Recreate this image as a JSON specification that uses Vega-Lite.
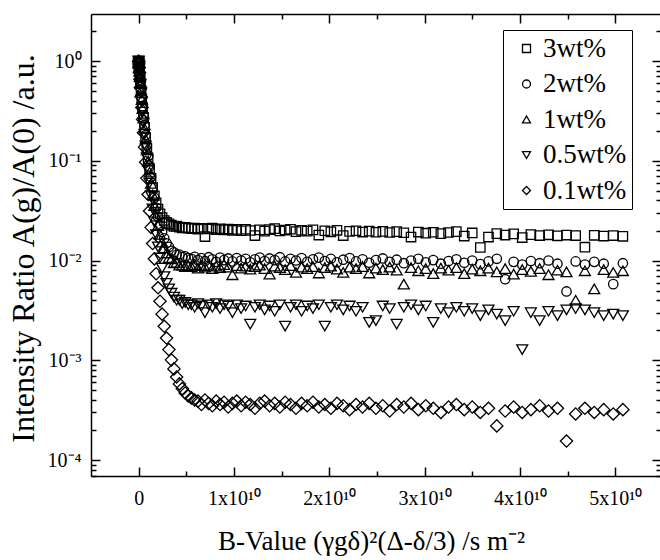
{
"$schema":"https://vega.github.io/schema/vega-lite/v6.json",
"autosize":"none",
"padding":{"left":91,"top":14,"right":0,"bottom":84},
"width":570,"height":462,
"background":"white",
"config":{"view":{"stroke":null},"font":"Liberation Serif"},
"data":{"values":[
{"s":"3wt%","b":0,"r":1},{"s":"3wt%","b":0.0005,"r":0.986},{"s":"3wt%","b":0.002,"r":0.945},{"s":"3wt%","b":0.0046,"r":0.877},{"s":"3wt%","b":0.0081,"r":0.795},{"s":"3wt%","b":0.0127,"r":0.701},{"s":"3wt%","b":0.0183,"r":0.603},{"s":"3wt%","b":0.0249,"r":0.508},{"s":"3wt%","b":0.0325,"r":0.42},{"s":"3wt%","b":0.0411,"r":0.341},{"s":"3wt%","b":0.0508,"r":0.273},{"s":"3wt%","b":0.0615,"r":0.216},{"s":"3wt%","b":0.0732,"r":0.17},{"s":"3wt%","b":0.0859,"r":0.134},{"s":"3wt%","b":0.0996,"r":0.105},{"s":"3wt%","b":0.1143,"r":0.0833},{"s":"3wt%","b":0.13,"r":0.0665},{"s":"3wt%","b":0.1468,"r":0.054},{"s":"3wt%","b":0.1646,"r":0.0446},{"s":"3wt%","b":0.1834,"r":0.0379},{"s":"3wt%","b":0.2032,"r":0.0328},{"s":"3wt%","b":0.224,"r":0.0294},{"s":"3wt%","b":0.2459,"r":0.027},{"s":"3wt%","b":0.2687,"r":0.0252},{"s":"3wt%","b":0.2926,"r":0.0241},{"s":"3wt%","b":0.3175,"r":0.0233},{"s":"3wt%","b":0.3434,"r":0.0226},{"s":"3wt%","b":0.3703,"r":0.022},{"s":"3wt%","b":0.3983,"r":0.0221},{"s":"3wt%","b":0.4272,"r":0.0216},{"s":"3wt%","b":0.4572,"r":0.0212},{"s":"3wt%","b":0.4882,"r":0.0215},{"s":"3wt%","b":0.5202,"r":0.0211},
{"s":"3wt%","b":0.5532,"r":0.0209},{"s":"3wt%","b":0.5873,"r":0.0212},{"s":"3wt%","b":0.6223,"r":0.0206},{"s":"3wt%","b":0.6584,"r":0.021},{"s":"3wt%","b":0.6955,"r":0.0174},{"s":"3wt%","b":0.7336,"r":0.0207},{"s":"3wt%","b":0.7727,"r":0.0211},{"s":"3wt%","b":0.8128,"r":0.0204},{"s":"3wt%","b":0.8539,"r":0.0208},{"s":"3wt%","b":0.8961,"r":0.0203},{"s":"3wt%","b":0.9393,"r":0.0207},{"s":"3wt%","b":0.9835,"r":0.0201},{"s":"3wt%","b":1.0287,"r":0.0205},{"s":"3wt%","b":1.0749,"r":0.0199},{"s":"3wt%","b":1.1222,"r":0.0206},{"s":"3wt%","b":1.1704,"r":0.02},{"s":"3wt%","b":1.2197,"r":0.0178},{"s":"3wt%","b":1.27,"r":0.0203},{"s":"3wt%","b":1.3213,"r":0.0197},{"s":"3wt%","b":1.3736,"r":0.0204},{"s":"3wt%","b":1.427,"r":0.0209},{"s":"3wt%","b":1.4813,"r":0.0198},{"s":"3wt%","b":1.5367,"r":0.0202},{"s":"3wt%","b":1.5931,"r":0.0206},{"s":"3wt%","b":1.6505,"r":0.0195},{"s":"3wt%","b":1.7089,"r":0.0201},{"s":"3wt%","b":1.7683,"r":0.0197},{"s":"3wt%","b":1.8288,"r":0.0203},{"s":"3wt%","b":1.8903,"r":0.018},{"s":"3wt%","b":1.9528,"r":0.0199},{"s":"3wt%","b":2.0163,"r":0.0194},{"s":"3wt%","b":2.0808,"r":0.0201},{"s":"3wt%","b":2.1463,"r":0.0178},{"s":"3wt%","b":2.2129,"r":0.0196},{"s":"3wt%","b":2.2804,"r":0.0199},{"s":"3wt%","b":2.349,"r":0.0193},{"s":"3wt%","b":2.4186,"r":0.0197},{"s":"3wt%","b":2.4892,"r":0.0192},{"s":"3wt%","b":2.5608,"r":0.0196},{"s":"3wt%","b":2.6335,"r":0.0191},{"s":"3wt%","b":2.7071,"r":0.0195},{"s":"3wt%","b":2.7818,"r":0.019},{"s":"3wt%","b":2.8575,"r":0.0172},{"s":"3wt%","b":2.9342,"r":0.0193},{"s":"3wt%","b":3.0119,"r":0.0188},{"s":"3wt%","b":3.0907,"r":0.0192},{"s":"3wt%","b":3.1704,"r":0.0186},{"s":"3wt%","b":3.2512,"r":0.0191},{"s":"3wt%","b":3.333,"r":0.0195},{"s":"3wt%","b":3.4158,"r":0.0176},{"s":"3wt%","b":3.4996,"r":0.0189},{"s":"3wt%","b":3.5845,"r":0.0135},{"s":"3wt%","b":3.6703,"r":0.0172},{"s":"3wt%","b":3.7572,"r":0.0186},{"s":"3wt%","b":3.8451,"r":0.018},{"s":"3wt%","b":3.934,"r":0.0185},{"s":"3wt%","b":4.0239,"r":0.017},{"s":"3wt%","b":4.1148,"r":0.0182},{"s":"3wt%","b":4.2068,"r":0.0178},{"s":"3wt%","b":4.2997,"r":0.0181},{"s":"3wt%","b":4.3937,"r":0.0177},{"s":"3wt%","b":4.4887,"r":0.018},{"s":"3wt%","b":4.5847,"r":0.0178},{"s":"3wt%","b":4.6817,"r":0.0136},{"s":"3wt%","b":4.7797,"r":0.0179},{"s":"3wt%","b":4.8788,"r":0.0176},{"s":"3wt%","b":4.9789,"r":0.0178},{"s":"3wt%","b":5.08,"r":0.0175},
{"s":"2wt%","b":0,"r":1},{"s":"2wt%","b":0.0005,"r":0.986},{"s":"2wt%","b":0.002,"r":0.945},{"s":"2wt%","b":0.0046,"r":0.88},{"s":"2wt%","b":0.0081,"r":0.799},{"s":"2wt%","b":0.0127,"r":0.707},{"s":"2wt%","b":0.0183,"r":0.611},{"s":"2wt%","b":0.0249,"r":0.518},{"s":"2wt%","b":0.0325,"r":0.431},{"s":"2wt%","b":0.0411,"r":0.353},{"s":"2wt%","b":0.0508,"r":0.285},{"s":"2wt%","b":0.0615,"r":0.228},{"s":"2wt%","b":0.0732,"r":0.181},{"s":"2wt%","b":0.0859,"r":0.142},{"s":"2wt%","b":0.0996,"r":0.112},{"s":"2wt%","b":0.1143,"r":0.0878},{"s":"2wt%","b":0.13,"r":0.0687},{"s":"2wt%","b":0.1468,"r":0.0539},{"s":"2wt%","b":0.1646,"r":0.0426},{"s":"2wt%","b":0.1834,"r":0.0339},{"s":"2wt%","b":0.2032,"r":0.0274},{"s":"2wt%","b":0.224,"r":0.0227},{"s":"2wt%","b":0.2459,"r":0.0193},{"s":"2wt%","b":0.2687,"r":0.0167},{"s":"2wt%","b":0.2926,"r":0.0149},{"s":"2wt%","b":0.3175,"r":0.0137},{"s":"2wt%","b":0.3434,"r":0.0125},{"s":"2wt%","b":0.3703,"r":0.0121},{"s":"2wt%","b":0.3983,"r":0.0114},{"s":"2wt%","b":0.4272,"r":0.0115},{"s":"2wt%","b":0.4572,"r":0.0109},{"s":"2wt%","b":0.4882,"r":0.011},{"s":"2wt%","b":0.5202,"r":0.0106},
{"s":"2wt%","b":0.5532,"r":0.0104},{"s":"2wt%","b":0.5873,"r":0.0109},{"s":"2wt%","b":0.6223,"r":0.0101},{"s":"2wt%","b":0.6584,"r":0.0106},{"s":"2wt%","b":0.6955,"r":0.0099},{"s":"2wt%","b":0.7336,"r":0.0108},{"s":"2wt%","b":0.7727,"r":0.0103},{"s":"2wt%","b":0.8128,"r":0.0097},{"s":"2wt%","b":0.8539,"r":0.0107},{"s":"2wt%","b":0.8961,"r":0.0101},{"s":"2wt%","b":0.9393,"r":0.0105},{"s":"2wt%","b":0.9835,"r":0.0098},{"s":"2wt%","b":1.0287,"r":0.0106},{"s":"2wt%","b":1.0749,"r":0.01},{"s":"2wt%","b":1.1222,"r":0.0104},{"s":"2wt%","b":1.1704,"r":0.0096},{"s":"2wt%","b":1.2197,"r":0.0103},{"s":"2wt%","b":1.27,"r":0.0107},{"s":"2wt%","b":1.3213,"r":0.0099},{"s":"2wt%","b":1.3736,"r":0.0105},{"s":"2wt%","b":1.427,"r":0.0101},{"s":"2wt%","b":1.4813,"r":0.0108},{"s":"2wt%","b":1.5367,"r":0.0098},{"s":"2wt%","b":1.5931,"r":0.0104},{"s":"2wt%","b":1.6505,"r":0.01},{"s":"2wt%","b":1.7089,"r":0.0106},{"s":"2wt%","b":1.7683,"r":0.0097},{"s":"2wt%","b":1.8288,"r":0.0103},{"s":"2wt%","b":1.8903,"r":0.0107},{"s":"2wt%","b":1.9528,"r":0.0099},{"s":"2wt%","b":2.0163,"r":0.0104},{"s":"2wt%","b":2.0808,"r":0.0096},{"s":"2wt%","b":2.1463,"r":0.0102},{"s":"2wt%","b":2.2129,"r":0.0106},{"s":"2wt%","b":2.2804,"r":0.0098},{"s":"2wt%","b":2.349,"r":0.0103},{"s":"2wt%","b":2.4186,"r":0.0095},{"s":"2wt%","b":2.4892,"r":0.0101},{"s":"2wt%","b":2.5608,"r":0.0105},{"s":"2wt%","b":2.6335,"r":0.0097},{"s":"2wt%","b":2.7071,"r":0.0102},{"s":"2wt%","b":2.7818,"r":0.0094},{"s":"2wt%","b":2.8575,"r":0.01},{"s":"2wt%","b":2.9342,"r":0.0104},{"s":"2wt%","b":3.0119,"r":0.0096},{"s":"2wt%","b":3.0907,"r":0.0101},{"s":"2wt%","b":3.1704,"r":0.0093},{"s":"2wt%","b":3.2512,"r":0.0099},{"s":"2wt%","b":3.333,"r":0.0103},{"s":"2wt%","b":3.4158,"r":0.0095},{"s":"2wt%","b":3.4996,"r":0.01},{"s":"2wt%","b":3.5845,"r":0.0092},{"s":"2wt%","b":3.6703,"r":0.0098},{"s":"2wt%","b":3.7572,"r":0.0104},{"s":"2wt%","b":3.8451,"r":0.0065},{"s":"2wt%","b":3.934,"r":0.0097},{"s":"2wt%","b":4.0239,"r":0.0091},{"s":"2wt%","b":4.1148,"r":0.0099},{"s":"2wt%","b":4.2068,"r":0.0094},{"s":"2wt%","b":4.2997,"r":0.01},{"s":"2wt%","b":4.3937,"r":0.0093},{"s":"2wt%","b":4.4887,"r":0.0049},{"s":"2wt%","b":4.5847,"r":0.0098},{"s":"2wt%","b":4.6817,"r":0.0091},{"s":"2wt%","b":4.7797,"r":0.0097},{"s":"2wt%","b":4.8788,"r":0.0093},{"s":"2wt%","b":4.9789,"r":0.0058},{"s":"2wt%","b":5.08,"r":0.0094},
{"s":"1wt%","b":0,"r":1},{"s":"1wt%","b":0.0005,"r":0.985},{"s":"1wt%","b":0.002,"r":0.942},{"s":"1wt%","b":0.0046,"r":0.873},{"s":"1wt%","b":0.0081,"r":0.79},{"s":"1wt%","b":0.0127,"r":0.694},{"s":"1wt%","b":0.0183,"r":0.595},{"s":"1wt%","b":0.0249,"r":0.4995},{"s":"1wt%","b":0.0325,"r":0.4115},{"s":"1wt%","b":0.0411,"r":0.334},{"s":"1wt%","b":0.0508,"r":0.267},{"s":"1wt%","b":0.0615,"r":0.211},{"s":"1wt%","b":0.0732,"r":0.165},{"s":"1wt%","b":0.0859,"r":0.1285},{"s":"1wt%","b":0.0996,"r":0.0994},{"s":"1wt%","b":0.1143,"r":0.0768},{"s":"1wt%","b":0.13,"r":0.0594},{"s":"1wt%","b":0.1468,"r":0.0457},{"s":"1wt%","b":0.1646,"r":0.0356},{"s":"1wt%","b":0.1834,"r":0.0279},{"s":"1wt%","b":0.2032,"r":0.0224},{"s":"1wt%","b":0.224,"r":0.0183},{"s":"1wt%","b":0.2459,"r":0.0153},{"s":"1wt%","b":0.2687,"r":0.0134},{"s":"1wt%","b":0.2926,"r":0.0119},{"s":"1wt%","b":0.3175,"r":0.0107},{"s":"1wt%","b":0.3434,"r":0.0104},{"s":"1wt%","b":0.3703,"r":0.0095},{"s":"1wt%","b":0.3983,"r":0.0096},{"s":"1wt%","b":0.4272,"r":0.009},{"s":"1wt%","b":0.4572,"r":0.009},{"s":"1wt%","b":0.4882,"r":0.0087},{"s":"1wt%","b":0.5202,"r":0.0089},
{"s":"1wt%","b":0.5532,"r":0.0087},{"s":"1wt%","b":0.5873,"r":0.0091},{"s":"1wt%","b":0.6223,"r":0.0084},{"s":"1wt%","b":0.6584,"r":0.0089},{"s":"1wt%","b":0.6955,"r":0.0086},{"s":"1wt%","b":0.7336,"r":0.009},{"s":"1wt%","b":0.7727,"r":0.0083},{"s":"1wt%","b":0.8128,"r":0.0088},{"s":"1wt%","b":0.8539,"r":0.0085},{"s":"1wt%","b":0.8961,"r":0.0091},{"s":"1wt%","b":0.9393,"r":0.0086},{"s":"1wt%","b":0.9835,"r":0.0072},{"s":"1wt%","b":1.0287,"r":0.0089},{"s":"1wt%","b":1.0749,"r":0.0084},{"s":"1wt%","b":1.1222,"r":0.0088},{"s":"1wt%","b":1.1704,"r":0.0082},{"s":"1wt%","b":1.2197,"r":0.0087},{"s":"1wt%","b":1.27,"r":0.009},{"s":"1wt%","b":1.3213,"r":0.0083},{"s":"1wt%","b":1.3736,"r":0.0073},{"s":"1wt%","b":1.427,"r":0.0088},{"s":"1wt%","b":1.4813,"r":0.0085},{"s":"1wt%","b":1.5367,"r":0.0081},{"s":"1wt%","b":1.5931,"r":0.0089},{"s":"1wt%","b":1.6505,"r":0.0076},{"s":"1wt%","b":1.7089,"r":0.0086},{"s":"1wt%","b":1.7683,"r":0.0083},{"s":"1wt%","b":1.8288,"r":0.0087},{"s":"1wt%","b":1.8903,"r":0.0075},{"s":"1wt%","b":1.9528,"r":0.0085},{"s":"1wt%","b":2.0163,"r":0.0088},{"s":"1wt%","b":2.0808,"r":0.0082},{"s":"1wt%","b":2.1463,"r":0.0076},{"s":"1wt%","b":2.2129,"r":0.0086},{"s":"1wt%","b":2.2804,"r":0.0083},{"s":"1wt%","b":2.349,"r":0.0087},{"s":"1wt%","b":2.4186,"r":0.0075},{"s":"1wt%","b":2.4892,"r":0.0084},{"s":"1wt%","b":2.5608,"r":0.0081},{"s":"1wt%","b":2.6335,"r":0.0086},{"s":"1wt%","b":2.7071,"r":0.008},{"s":"1wt%","b":2.7818,"r":0.0058},{"s":"1wt%","b":2.8575,"r":0.0085},{"s":"1wt%","b":2.9342,"r":0.0079},{"s":"1wt%","b":3.0119,"r":0.0083},{"s":"1wt%","b":3.0907,"r":0.0074},{"s":"1wt%","b":3.1704,"r":0.0084},{"s":"1wt%","b":3.2512,"r":0.008},{"s":"1wt%","b":3.333,"r":0.0085},{"s":"1wt%","b":3.4158,"r":0.0074},{"s":"1wt%","b":3.4996,"r":0.0082},{"s":"1wt%","b":3.5845,"r":0.0079},{"s":"1wt%","b":3.6703,"r":0.0084},{"s":"1wt%","b":3.7572,"r":0.0077},{"s":"1wt%","b":3.8451,"r":0.0083},{"s":"1wt%","b":3.934,"r":0.0073},{"s":"1wt%","b":4.0239,"r":0.0081},{"s":"1wt%","b":4.1148,"r":0.0078},{"s":"1wt%","b":4.2068,"r":0.0083},{"s":"1wt%","b":4.2997,"r":0.0072},{"s":"1wt%","b":4.3937,"r":0.008},{"s":"1wt%","b":4.4887,"r":0.0077},{"s":"1wt%","b":4.5847,"r":0.004},{"s":"1wt%","b":4.6817,"r":0.0079},{"s":"1wt%","b":4.7797,"r":0.0052},{"s":"1wt%","b":4.8788,"r":0.0081},{"s":"1wt%","b":4.9789,"r":0.0076},{"s":"1wt%","b":5.08,"r":0.0079},
{"s":"0.5wt%","b":0,"r":1},{"s":"0.5wt%","b":0.0005,"r":0.984},{"s":"0.5wt%","b":0.002,"r":0.939},{"s":"0.5wt%","b":0.0046,"r":0.866},{"s":"0.5wt%","b":0.0081,"r":0.778},{"s":"0.5wt%","b":0.0127,"r":0.678},{"s":"0.5wt%","b":0.0183,"r":0.575},{"s":"0.5wt%","b":0.0249,"r":0.476},{"s":"0.5wt%","b":0.0325,"r":0.386},{"s":"0.5wt%","b":0.0411,"r":0.307},{"s":"0.5wt%","b":0.0508,"r":0.24},{"s":"0.5wt%","b":0.0615,"r":0.185},{"s":"0.5wt%","b":0.0732,"r":0.141},{"s":"0.5wt%","b":0.0859,"r":0.1066},{"s":"0.5wt%","b":0.0996,"r":0.0801},{"s":"0.5wt%","b":0.1143,"r":0.0598},{"s":"0.5wt%","b":0.13,"r":0.0445},{"s":"0.5wt%","b":0.1468,"r":0.033},{"s":"0.5wt%","b":0.1646,"r":0.0244},{"s":"0.5wt%","b":0.1834,"r":0.0182},{"s":"0.5wt%","b":0.2032,"r":0.0137},{"s":"0.5wt%","b":0.224,"r":0.0106},{"s":"0.5wt%","b":0.2459,"r":0.0084},{"s":"0.5wt%","b":0.2687,"r":0.0069},{"s":"0.5wt%","b":0.2926,"r":0.0059},{"s":"0.5wt%","b":0.3175,"r":0.0052},{"s":"0.5wt%","b":0.3434,"r":0.0047},{"s":"0.5wt%","b":0.3703,"r":0.0043},{"s":"0.5wt%","b":0.3983,"r":0.004},{"s":"0.5wt%","b":0.4272,"r":0.004},{"s":"0.5wt%","b":0.4572,"r":0.0037},{"s":"0.5wt%","b":0.4882,"r":0.0038},{"s":"0.5wt%","b":0.5202,"r":0.0036},
{"s":"0.5wt%","b":0.5532,"r":0.0036},{"s":"0.5wt%","b":0.5873,"r":0.0034},{"s":"0.5wt%","b":0.6223,"r":0.0037},{"s":"0.5wt%","b":0.6584,"r":0.0035},{"s":"0.5wt%","b":0.6955,"r":0.003},{"s":"0.5wt%","b":0.7336,"r":0.0036},{"s":"0.5wt%","b":0.7727,"r":0.0034},{"s":"0.5wt%","b":0.8128,"r":0.0037},{"s":"0.5wt%","b":0.8539,"r":0.0033},{"s":"0.5wt%","b":0.8961,"r":0.0036},{"s":"0.5wt%","b":0.9393,"r":0.0035},{"s":"0.5wt%","b":0.9835,"r":0.003},{"s":"0.5wt%","b":1.0287,"r":0.0036},{"s":"0.5wt%","b":1.0749,"r":0.0033},{"s":"0.5wt%","b":1.1222,"r":0.0035},{"s":"0.5wt%","b":1.1704,"r":0.0023},{"s":"0.5wt%","b":1.2197,"r":0.0034},{"s":"0.5wt%","b":1.27,"r":0.0036},{"s":"0.5wt%","b":1.3213,"r":0.0032},{"s":"0.5wt%","b":1.3736,"r":0.0035},{"s":"0.5wt%","b":1.427,"r":0.0031},{"s":"0.5wt%","b":1.4813,"r":0.0036},{"s":"0.5wt%","b":1.5367,"r":0.0022},{"s":"0.5wt%","b":1.5931,"r":0.0034},{"s":"0.5wt%","b":1.6505,"r":0.0036},{"s":"0.5wt%","b":1.7089,"r":0.0031},{"s":"0.5wt%","b":1.7683,"r":0.0035},{"s":"0.5wt%","b":1.8288,"r":0.0033},{"s":"0.5wt%","b":1.8903,"r":0.0036},{"s":"0.5wt%","b":1.9528,"r":0.0022},{"s":"0.5wt%","b":2.0163,"r":0.0034},{"s":"0.5wt%","b":2.0808,"r":0.0036},{"s":"0.5wt%","b":2.1463,"r":0.0032},{"s":"0.5wt%","b":2.2129,"r":0.0035},{"s":"0.5wt%","b":2.2804,"r":0.0031},{"s":"0.5wt%","b":2.349,"r":0.0034},{"s":"0.5wt%","b":2.4186,"r":0.0024},{"s":"0.5wt%","b":2.4892,"r":0.0025},{"s":"0.5wt%","b":2.5608,"r":0.0035},{"s":"0.5wt%","b":2.6335,"r":0.0033},{"s":"0.5wt%","b":2.7071,"r":0.0023},{"s":"0.5wt%","b":2.7818,"r":0.0034},{"s":"0.5wt%","b":2.8575,"r":0.0036},{"s":"0.5wt%","b":2.9342,"r":0.0032},{"s":"0.5wt%","b":3.0119,"r":0.0035},{"s":"0.5wt%","b":3.0907,"r":0.0024},{"s":"0.5wt%","b":3.1704,"r":0.0033},{"s":"0.5wt%","b":3.2512,"r":0.003},{"s":"0.5wt%","b":3.333,"r":0.0034},{"s":"0.5wt%","b":3.4158,"r":0.0031},{"s":"0.5wt%","b":3.4996,"r":0.0033},{"s":"0.5wt%","b":3.5845,"r":0.0028},{"s":"0.5wt%","b":3.6703,"r":0.0032},{"s":"0.5wt%","b":3.7572,"r":0.0029},{"s":"0.5wt%","b":3.8451,"r":0.0025},{"s":"0.5wt%","b":3.934,"r":0.0031},{"s":"0.5wt%","b":4.0239,"r":0.00128},{"s":"0.5wt%","b":4.1148,"r":0.003},{"s":"0.5wt%","b":4.2068,"r":0.0025},{"s":"0.5wt%","b":4.2997,"r":0.0031},{"s":"0.5wt%","b":4.3937,"r":0.0028},{"s":"0.5wt%","b":4.4887,"r":0.0032},{"s":"0.5wt%","b":4.5847,"r":0.0033},{"s":"0.5wt%","b":4.6817,"r":0.0032},{"s":"0.5wt%","b":4.7797,"r":0.003},{"s":"0.5wt%","b":4.8788,"r":0.0028},{"s":"0.5wt%","b":4.9789,"r":0.0029},{"s":"0.5wt%","b":5.08,"r":0.0028},
{"s":"0.1wt%","b":0,"r":1},{"s":"0.1wt%","b":0.0005,"r":0.984},{"s":"0.1wt%","b":0.002,"r":0.935},{"s":"0.1wt%","b":0.0046,"r":0.857},{"s":"0.1wt%","b":0.0081,"r":0.763},{"s":"0.1wt%","b":0.0127,"r":0.655},{"s":"0.1wt%","b":0.0183,"r":0.544},{"s":"0.1wt%","b":0.0249,"r":0.438},{"s":"0.1wt%","b":0.0325,"r":0.342},{"s":"0.1wt%","b":0.0411,"r":0.26},{"s":"0.1wt%","b":0.0508,"r":0.191},{"s":"0.1wt%","b":0.0615,"r":0.137},{"s":"0.1wt%","b":0.0732,"r":0.0967},{"s":"0.1wt%","b":0.0859,"r":0.067},{"s":"0.1wt%","b":0.0996,"r":0.0459},{"s":"0.1wt%","b":0.1143,"r":0.0314},{"s":"0.1wt%","b":0.13,"r":0.0215},{"s":"0.1wt%","b":0.1468,"r":0.0148},{"s":"0.1wt%","b":0.1646,"r":0.0104},{"s":"0.1wt%","b":0.1834,"r":0.00737},{"s":"0.1wt%","b":0.2032,"r":0.00533},{"s":"0.1wt%","b":0.224,"r":0.00391},{"s":"0.1wt%","b":0.2459,"r":0.0029},{"s":"0.1wt%","b":0.2687,"r":0.00219},{"s":"0.1wt%","b":0.2926,"r":0.00167},{"s":"0.1wt%","b":0.3175,"r":0.00128},{"s":"0.1wt%","b":0.3434,"r":0.00101},{"s":"0.1wt%","b":0.3703,"r":0.00082},{"s":"0.1wt%","b":0.3983,"r":0.00068},{"s":"0.1wt%","b":0.4272,"r":0.00058},{"s":"0.1wt%","b":0.4572,"r":0.00052},{"s":"0.1wt%","b":0.4882,"r":0.00047},{"s":"0.1wt%","b":0.5202,"r":0.00044},{"s":"0.1wt%","b":0.5532,"r":0.00042},{"s":"0.1wt%","b":0.5873,"r":0.0004},
{"s":"0.1wt%","b":0.6223,"r":0.00039},{"s":"0.1wt%","b":0.6584,"r":0.00036},{"s":"0.1wt%","b":0.6955,"r":0.0004},{"s":"0.1wt%","b":0.7336,"r":0.00037},{"s":"0.1wt%","b":0.7727,"r":0.00035},{"s":"0.1wt%","b":0.8128,"r":0.00039},{"s":"0.1wt%","b":0.8539,"r":0.00036},{"s":"0.1wt%","b":0.8961,"r":0.00038},{"s":"0.1wt%","b":0.9393,"r":0.00034},{"s":"0.1wt%","b":0.9835,"r":0.00037},{"s":"0.1wt%","b":1.0287,"r":0.00039},{"s":"0.1wt%","b":1.0749,"r":0.00035},{"s":"0.1wt%","b":1.1222,"r":0.00038},{"s":"0.1wt%","b":1.1704,"r":0.00036},{"s":"0.1wt%","b":1.2197,"r":0.00033},{"s":"0.1wt%","b":1.27,"r":0.00037},{"s":"0.1wt%","b":1.3213,"r":0.00039},{"s":"0.1wt%","b":1.3736,"r":0.00035},{"s":"0.1wt%","b":1.427,"r":0.00037},{"s":"0.1wt%","b":1.4813,"r":0.00034},{"s":"0.1wt%","b":1.5367,"r":0.00038},{"s":"0.1wt%","b":1.5931,"r":0.00036},{"s":"0.1wt%","b":1.6505,"r":0.00033},{"s":"0.1wt%","b":1.7089,"r":0.00037},{"s":"0.1wt%","b":1.7683,"r":0.00035},{"s":"0.1wt%","b":1.8288,"r":0.00038},{"s":"0.1wt%","b":1.8903,"r":0.00034},{"s":"0.1wt%","b":1.9528,"r":0.00036},{"s":"0.1wt%","b":2.0163,"r":0.00033},{"s":"0.1wt%","b":2.0808,"r":0.00037},{"s":"0.1wt%","b":2.1463,"r":0.00035},{"s":"0.1wt%","b":2.2129,"r":0.00032},{"s":"0.1wt%","b":2.2804,"r":0.00036},{"s":"0.1wt%","b":2.349,"r":0.00034},{"s":"0.1wt%","b":2.4186,"r":0.00037},{"s":"0.1wt%","b":2.4892,"r":0.00033},{"s":"0.1wt%","b":2.5608,"r":0.00035},{"s":"0.1wt%","b":2.6335,"r":0.00031},{"s":"0.1wt%","b":2.7071,"r":0.00036},{"s":"0.1wt%","b":2.7818,"r":0.00034},{"s":"0.1wt%","b":2.8575,"r":0.00037},{"s":"0.1wt%","b":2.9342,"r":0.00032},{"s":"0.1wt%","b":3.0119,"r":0.00035},{"s":"0.1wt%","b":3.0907,"r":0.00033},{"s":"0.1wt%","b":3.1704,"r":0.0003},{"s":"0.1wt%","b":3.2512,"r":0.00034},{"s":"0.1wt%","b":3.333,"r":0.00036},{"s":"0.1wt%","b":3.4158,"r":0.00032},{"s":"0.1wt%","b":3.4996,"r":0.00034},{"s":"0.1wt%","b":3.5845,"r":0.0003},{"s":"0.1wt%","b":3.6703,"r":0.00033},{"s":"0.1wt%","b":3.7572,"r":0.00022},{"s":"0.1wt%","b":3.8451,"r":0.00031},{"s":"0.1wt%","b":3.934,"r":0.00034},{"s":"0.1wt%","b":4.0239,"r":0.0003},{"s":"0.1wt%","b":4.1148,"r":0.00032},{"s":"0.1wt%","b":4.2068,"r":0.00035},{"s":"0.1wt%","b":4.2997,"r":0.00031},{"s":"0.1wt%","b":4.3937,"r":0.00033},{"s":"0.1wt%","b":4.4887,"r":0.000155},{"s":"0.1wt%","b":4.5847,"r":0.00029},{"s":"0.1wt%","b":4.6817,"r":0.00033},{"s":"0.1wt%","b":4.7797,"r":0.0003},{"s":"0.1wt%","b":4.8788,"r":0.00032},{"s":"0.1wt%","b":4.9789,"r":0.00029},{"s":"0.1wt%","b":5.08,"r":0.00032}
]},
"layer":[
{
"transform":[{"filter":"datum.s == '3wt%' || datum.s == '2wt%' || datum.s == '1wt%'"}],
"mark":{"type":"point","filled":false,"color":"black","opacity":1,"strokeWidth":1.3},
"encoding":{
"x":{"field":"b","type":"quantitative","scale":{"domain":[-0.5,5.48],"nice":false,"zero":false},
"axis":{"orient":"bottom","values":[0,0.5,1,1.5,2,2.5,3,3.5,4,4.5,5],
"labelExpr":"datum.value == 0 ? '0' : (datum.value % 1 == 0 ? datum.value + 'x10¹⁰' : '')",
"tickSize":{"condition":{"test":"datum.value % 1 == 0","value":-9},"value":-5},
"tickWidth":1.5,"tickColor":"black","domainColor":"black","domainWidth":1.5,"grid":false,
"labelFont":"Liberation Serif","labelFontSize":20,"labelColor":"black","labelPadding":21,"labelOverlap":false,"labelFlush":false,
"title":"B-Value (γgδ)²(Δ-δ/3) /s m⁻²","titleFont":"Liberation Serif","titleFontSize":27,"titleFontWeight":"normal","titleColor":"black","titleX":280,"titleY":73,"titleBaseline":"alphabetic","titleAlign":"center"}},
"y":{"field":"r","type":"quantitative","scale":{"type":"log","domain":[6.92e-5,2.96],"nice":false},
"axis":{"orient":"left","values":[7e-5,8e-5,9e-5,0.0001,0.0002,0.0003,0.0004,0.0005,0.0006,0.0007,0.0008,0.0009,0.001,0.002,0.003,0.004,0.005,0.006,0.007,0.008,0.009,0.01,0.02,0.03,0.04,0.05,0.06,0.07,0.08,0.09,0.1,0.2,0.3,0.4,0.5,0.6,0.7,0.8,0.9,1,2],
"labelExpr":"datum.value == 1 ? '10⁰' : datum.value == 0.1 ? '10⁻¹' : datum.value == 0.01 ? '10⁻²' : datum.value == 0.001 ? '10⁻³' : datum.value == 0.0001 ? '10⁻⁴' : ''",
"tickSize":{"condition":{"test":"datum.value == 1 || datum.value == 0.1 || datum.value == 0.01 || datum.value == 0.001 || datum.value == 0.0001","value":-9},"value":-5},
"tickWidth":1.5,"tickColor":"black","domainColor":"black","domainWidth":1.5,"grid":false,
"labelFont":"Liberation Serif","labelFontSize":20,"labelColor":"black","labelPadding":19,"labelOverlap":false,"labelFlush":false,
"title":"Intensity Ratio A(g)/A(0) /a.u.","titleFont":"Liberation Serif","titleFontSize":32,"titleFontWeight":"normal","titleColor":"black","titleX":-68,"titleY":234,"titleAngle":270,"titleBaseline":"middle","titleAlign":"center"}},
"shape":{"field":"s","type":"nominal","scale":{"domain":["3wt%","2wt%","1wt%","0.5wt%","0.1wt%"],"range":["square","circle","triangle-up","triangle-down","diamond"]},
"legend":{"orient":"none","legendX":412,"legendY":16,"title":null,"direction":"vertical","strokeColor":"black","fillColor":"white","padding":5,"rowPadding":7.5,"symbolOffset":5,"symbolSize":64,"symbolStrokeWidth":1.3,"symbolStrokeColor":"black","labelOffset":3,"labelFont":"Liberation Serif","labelFontSize":27,"labelColor":"black"}},
"size":{"condition":{"test":"datum.s == '1wt%'","value":120},"value":88}
}
},
{
"transform":[{"filter":"datum.s == '0.5wt%' || datum.s == '0.1wt%'"}],
"mark":{"type":"point","filled":false,"color":"black","opacity":1,"strokeWidth":1.3},
"encoding":{
"x":{"field":"b","type":"quantitative",
"axis":{"orient":"top","values":[0,0.5,1,1.5,2,2.5,3,3.5,4,4.5,5],"labels":false,"title":null,
"tickSize":{"condition":{"test":"datum.value % 1 == 0","value":-9},"value":-5},
"tickWidth":1.5,"tickColor":"black","domainColor":"black","domainWidth":1.5,"grid":false}},
"y":{"field":"r","type":"quantitative",
"axis":{"orient":"right","values":[7e-5,8e-5,9e-5,0.0001,0.0002,0.0003,0.0004,0.0005,0.0006,0.0007,0.0008,0.0009,0.001,0.002,0.003,0.004,0.005,0.006,0.007,0.008,0.009,0.01,0.02,0.03,0.04,0.05,0.06,0.07,0.08,0.09,0.1,0.2,0.3,0.4,0.5,0.6,0.7,0.8,0.9,1,2],"labels":false,"title":null,
"tickSize":{"condition":{"test":"datum.value == 1 || datum.value == 0.1 || datum.value == 0.01 || datum.value == 0.001 || datum.value == 0.0001","value":-9},"value":-5},
"tickWidth":1.5,"tickColor":"black","domainColor":"black","domainWidth":1.5,"grid":false}},
"shape":{"field":"s","type":"nominal"},
"size":{"condition":{"test":"datum.s == '0.1wt%'","value":150},"value":120}
}
}
],
"resolve":{"axis":{"x":"independent","y":"independent"}}
}
